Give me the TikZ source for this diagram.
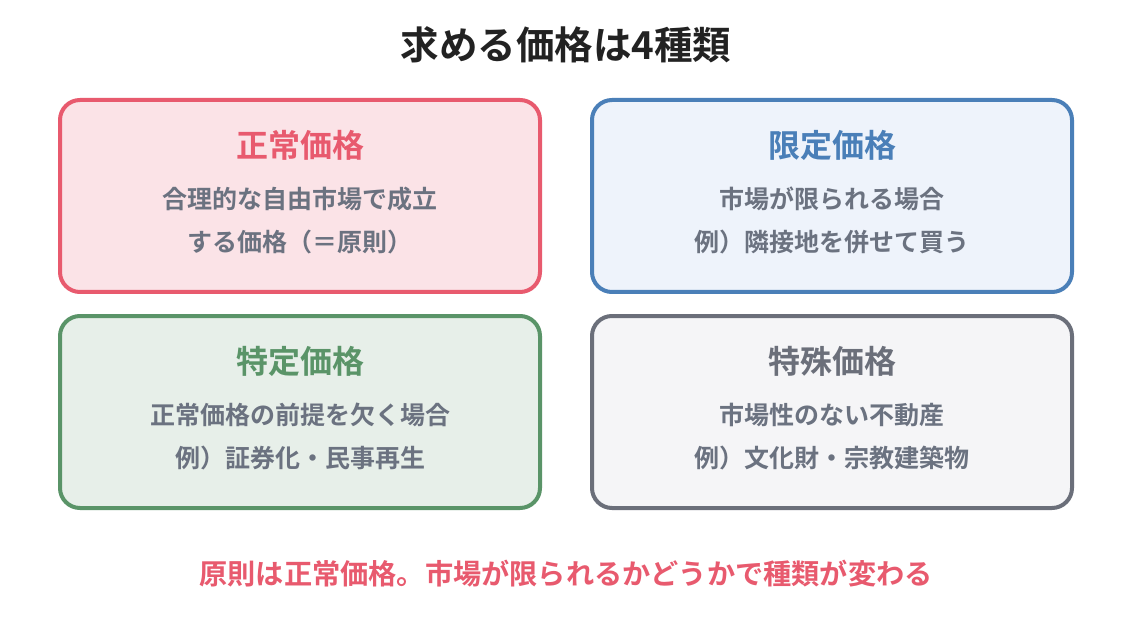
\documentclass[tikz,border=0pt]{standalone}
\usepackage{fontspec}
\newfontfamily\cjk{Noto Sans CJK JP}[BoldFont={Noto Sans CJK JP Bold}]
\definecolor{cred}{HTML}{E85A6E}
\definecolor{fred}{HTML}{FBE3E7}
\definecolor{cblue}{HTML}{4A7FB8}
\definecolor{fblue}{HTML}{EEF3FB}
\definecolor{cgreen}{HTML}{5A9468}
\definecolor{fgreen}{HTML}{E7EFE9}
\definecolor{cgray}{HTML}{6B6F7A}
\definecolor{fgray}{HTML}{F5F5F7}
\definecolor{ctext}{HTML}{6B7280}
\definecolor{ctitle}{HTML}{222222}
\begin{document}
\begin{tikzpicture}[x=1pt,y=-1pt,
  card/.style={draw=#1, line width=4pt, rounded corners=20pt},
  cardtitle/.style={font=\cjk\bfseries\fontsize{32}{38}\selectfont, anchor=center},
  body/.style={font=\cjk\bfseries\fontsize{25}{30}\selectfont, text=ctext, anchor=center},
]
\path[fill=white] (0,0) rectangle (1132,628);
\useasboundingbox (0,0) rectangle (1132,628);
\node[font=\cjk\bfseries\fontsize{38.5}{44}\selectfont, text=ctitle] (title) at (566,45) {求める価格は4種類};
% boxes
\node[card=cred, fill=fred, minimum width=480pt, minimum height=192pt] (b1) at (300,196) {};
\node[card=cblue, fill=fblue, minimum width=480pt, minimum height=192pt] (b2) at (832,196) {};
\node[card=cgreen, fill=fgreen, minimum width=480pt, minimum height=192pt] (b3) at (300,412) {};
\node[card=cgray, fill=fgray, minimum width=480pt, minimum height=192pt] (b4) at (832,412) {};
% texts
\node[cardtitle, text=cred] (t1) at (300,145) {正常価格};
\node[body] (l11) at (300,199) {合理的な自由市場で成立};
\node[body] (l12) at (300,242) {する価格（＝原則）};
\node[cardtitle, text=cblue] (t2) at (832,145) {限定価格};
\node[body] (l21) at (832,199) {市場が限られる場合};
\node[body] (l22) at (832,242) {例）隣接地を併せて買う};
\node[cardtitle, text=cgreen] (t3) at (300,361) {特定価格};
\node[body] (l31) at (300,415) {正常価格の前提を欠く場合};
\node[body] (l32) at (300,458) {例）証券化・民事再生};
\node[cardtitle, text=cgray] (t4) at (832,361) {特殊価格};
\node[body] (l41) at (832,415) {市場性のない不動産};
\node[body] (l42) at (832,458) {例）文化財・宗教建築物};
\node[font=\cjk\bfseries\fontsize{28.2}{33}\selectfont, text=cred] (foot) at (566,574) {原則は正常価格。市場が限られるかどうかで種類が変わる};
\end{tikzpicture}
\end{document}
